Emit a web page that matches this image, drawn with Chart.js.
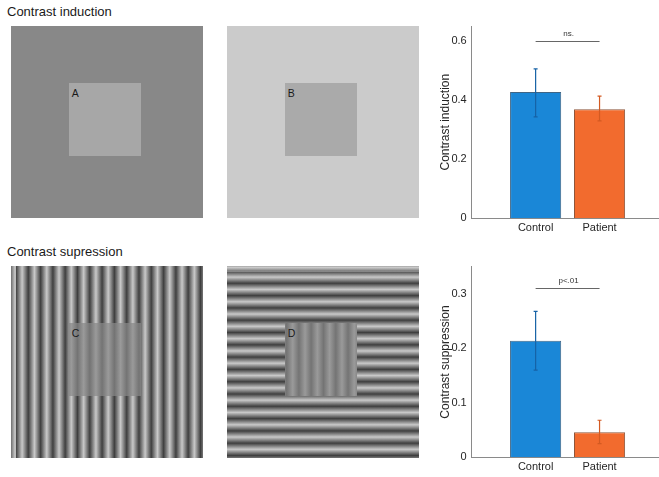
<!DOCTYPE html>
<html>
<head>
<meta charset="utf-8">
<script src="https://cdn.jsdelivr.net/npm/chart.js@4.4.1/dist/chart.umd.min.js"></script>
<style>
    html, body { margin: 0; padding: 0; background: #fff; }
    body { width: 659px; height: 477px; position: relative; overflow: hidden; font-family: "Liberation Sans", Arial, sans-serif; color: #1a1a1a; }
    .title { position: absolute; left: 7px; font-size: 13px; line-height: 15px; white-space: nowrap; }
    .panel { position: absolute; width: 192px; height: 192px; }
    .inner { position: absolute; left: 58px; top: 57.5px; width: 72.5px; height: 72.5px; }
    .letter { position: absolute; left: 3px; top: 4px; font-size: 10.5px; line-height: 12px; color: #1a1a1a; }
    .vgrat { background: repeating-linear-gradient(90deg, #3f3f3f 0px, #c9c9c9 6.15px, #3f3f3f 12.3px); background-attachment: fixed; background-position: 15.7px 0; }
    .hgrat { background: repeating-linear-gradient(180deg, #3f3f3f 0px, #c9c9c9 6.15px, #3f3f3f 12.3px); background-attachment: fixed; background-position: 0 270.7px; }
    .vlow { background: repeating-linear-gradient(90deg, #747474 0px, #9a9a9a 6.15px, #747474 12.3px); background-attachment: fixed; background-position: 15.7px 0; }
    .chartbox { position: absolute; left: 420px; width: 239px; height: 215px; }
</style>
</head>
<body>

<div class="title" style="top:4px;">Contrast induction</div>
<div class="title" style="top:244px;">Contrast supression</div>

<div class="panel" style="left:10.7px; top:25.7px; background:#888888;">
    <div class="inner" style="background:#a7a7a7;"><span class="letter">A</span></div>
</div>
<div class="panel" style="left:226.7px; top:25.7px; background:#cbcbcb;">
    <div class="inner" style="background:#aaaaaa;"><span class="letter">B</span></div>
</div>
<div class="panel vgrat" style="left:10.7px; top:265.7px;">
    <div class="inner vlow"><span class="letter">C</span></div>
</div>
<div class="panel hgrat" style="left:226.7px; top:265.7px;">
    <div class="inner vlow"><span class="letter">D</span></div>
</div>

<div class="chartbox" style="top:20px;"><canvas id="inductionChart" width="239" height="215"></canvas></div>
<div class="chartbox" style="top:260px;"><canvas id="suppressionChart" width="239" height="215"></canvas></div>

<script>
// Dados dos graficos
const categories = ['Control', 'Patient'];
const inductionMeans = [0.427, 0.369];
const inductionLow = [0.343, 0.329];
const inductionHigh = [0.505, 0.413];
const inductionTicks = [0, 0.2, 0.4, 0.6];
const inductionSig = { label: 'ns.', level: 0.6 };

const suppressionMeans = [0.214, 0.046];
const suppressionLow = [0.160, 0.025];
const suppressionHigh = [0.268, 0.068];
const suppressionTicks = [0, 0.1, 0.2, 0.3];
const suppressionSig = { label: 'p<.01', level: 0.311 };

const barColors = ['#1a87d7', '#f26b2e'];
const barBorders = ['#3f6585', '#8d553c'];
const errColors = ['#1662a6', '#d35a22'];

const fontFamily = '"Liberation Sans", Arial, sans-serif';

// barras de erro + linha de significancia
const errorBarPlugin = {
    id: 'errorBars',
    afterDatasetsDraw: function (chart) {
        const ctx = chart.ctx;
        const xs = chart.scales.x;
        const ys = chart.scales.y;
        const opts = chart.options.plugins.errorBars;
        ctx.save();
        ctx.lineWidth = 1.2;
        for (var i = 0; i < categories.length; i++) {
            var x = xs.getPixelForValue(i + 1);
            var y1 = ys.getPixelForValue(opts.low[i]);
            var y2 = ys.getPixelForValue(opts.high[i]);
            ctx.strokeStyle = errColors[i];
            ctx.beginPath();
            ctx.moveTo(x, y1); ctx.lineTo(x, y2);
            ctx.moveTo(x - 2, y1); ctx.lineTo(x + 2, y1);
            ctx.moveTo(x - 2, y2); ctx.lineTo(x + 2, y2);
            ctx.stroke();
        }
        // significancia
        var sy = ys.getPixelForValue(opts.sig.level);
        var sx1 = xs.getPixelForValue(1);
        var sx2 = xs.getPixelForValue(2);
        ctx.strokeStyle = '#666666';
        ctx.lineWidth = 1;
        ctx.beginPath();
        ctx.moveTo(sx1, Math.round(sy) + 0.5);
        ctx.lineTo(sx2, Math.round(sy) + 0.5);
        ctx.stroke();
        ctx.fillStyle = '#333333';
        ctx.font = '8px ' + fontFamily;
        ctx.textAlign = 'center';
        ctx.textBaseline = 'bottom';
        ctx.fillText(opts.sig.label, (sx1 + sx2) / 2 + 1, sy - 3);
        ctx.restore();
    }
};

function criarGrafico(canvasId, means, low, high, ticks, yMax, yTitle, sig, padTop, xHeight) {
    var ctx = document.getElementById(canvasId).getContext('2d');
    return new Chart(ctx, {
        type: 'bar',
        data: {
            datasets: [{
                data: means.map(function (v, i) { return { x: i + 1, y: v }; }),
                backgroundColor: barColors,
                borderColor: barBorders,
                borderWidth: 1,
                barPercentage: 0.8,
                categoryPercentage: 1.0
            }]
        },
        options: {
            responsive: false,
            animation: false,
            layout: { padding: { top: padTop, right: 0, left: 0, bottom: 0 } },
            plugins: {
                legend: { display: false },
                tooltip: { enabled: false },
                errorBars: { low: low, high: high, sig: sig }
            },
            scales: {
                x: {
                    type: 'linear',
                    offset: false,
                    min: 0,
                    max: 2.93,
                    grid: { display: false, drawTicks: false, offset: false },
                    border: { display: true, color: '#8a8a8a', width: 1 },
                    afterBuildTicks: function (scale) {
                        scale.ticks = categories.map(function (c, i) { return { value: i + 1 }; });
                    },
                    afterFit: function (scale) {
                        scale.height = xHeight;
                        scale.paddingLeft = 0;
                        scale.paddingRight = 0;
                    },
                    ticks: {
                        autoSkip: false,
                        maxRotation: 0,
                        padding: 3,
                        color: '#262626',
                        font: { family: fontFamily, size: 11 },
                        callback: function (v) { return categories[v - 1] || ''; }
                    }
                },
                y: {
                    min: 0,
                    max: yMax,
                    grid: { display: false, drawTicks: false },
                    border: { display: true, color: '#8a8a8a', width: 1 },
                    afterBuildTicks: function (scale) {
                        scale.ticks = ticks.map(function (t) { return { value: t }; });
                    },
                    afterFit: function (scale) {
                        scale.width = 51.7;
                        scale.paddingTop = 0;
                        scale.paddingBottom = 0;
                    },
                    title: {
                        display: true,
                        text: yTitle,
                        color: '#262626',
                        font: { family: fontFamily, size: 12 },
                        padding: { top: 18, bottom: 4 }
                    },
                    ticks: {
                        padding: 5,
                        color: '#262626',
                        font: { family: fontFamily, size: 11 },
                        callback: function (v) { return v === 0 ? '0' : v.toFixed(1); }
                    }
                }
            }
        },
        plugins: [errorBarPlugin]
    });
}

criarGrafico('inductionChart', inductionMeans, inductionLow, inductionHigh, inductionTicks, 0.65, 'Contrast induction', inductionSig, 6, 16.7);
criarGrafico('suppressionChart', suppressionMeans, suppressionLow, suppressionHigh, suppressionTicks, 0.35, 'Contrast suppression', suppressionSig, 6.7, 17.7);
</script>
</body>
</html>
